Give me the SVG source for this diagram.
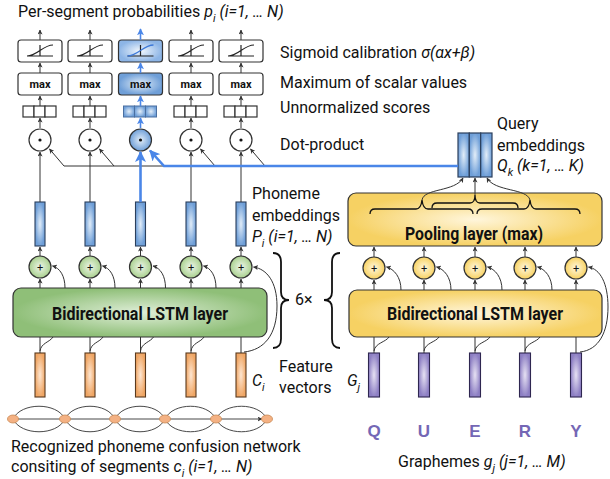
<svg xmlns="http://www.w3.org/2000/svg" width="610" height="479" viewBox="0 0 610 479">
<defs>
<style>
text{font-family:Roboto,"Liberation Sans",sans-serif;fill:#111}
.t{font-size:16px}
.it{font-style:italic}
.b{font-weight:bold}
.mx{font-size:11px;font-weight:bold;text-anchor:middle}
.pl{font-size:11px;text-anchor:middle}
.box{stroke:#333;stroke-width:1.2}
.w{fill:#fff;stroke:#333;stroke-width:1.2}
.ln{fill:none;stroke:#333;stroke-width:1}
.bl{fill:none;stroke:#4a86e8;stroke-width:1.6}
.blt{fill:none;stroke:#4a86e8;stroke-width:2.6}
.ic{fill:none;stroke:#222;stroke-width:1.2}
.q{font-family:"Liberation Sans",Arial,sans-serif;font-size:17px;font-weight:bold;fill:#7467b5;text-anchor:middle}
.cn{fill:none;stroke:#333;stroke-width:0.9}
.nd{fill:#f4b183;stroke:#c98a55;stroke-width:0.8}
</style>
<marker id="a" viewBox="0 0 10 10" refX="9" refY="5" markerWidth="5" markerHeight="5" orient="auto" markerUnits="userSpaceOnUse"><path d="M0,0L10,5L0,10L2.5,5z" fill="#333"/></marker>
<marker id="ab" viewBox="0 0 10 10" refX="9" refY="5" markerWidth="7" markerHeight="7" orient="auto" markerUnits="userSpaceOnUse"><path d="M0,0L10,5L0,10L2.5,5z" fill="#4a86e8"/></marker>
<marker id="abig" viewBox="0 0 10 10" refX="9" refY="5" markerWidth="11" markerHeight="11" orient="auto" markerUnits="userSpaceOnUse"><path d="M0,0L10,5L0,10L2.5,5z" fill="#4a86e8"/></marker>
<radialGradient id="gB"><stop offset="0" stop-color="#e2edf8"/><stop offset="1" stop-color="#6f9fd8"/></radialGradient>
<radialGradient id="gBl"><stop offset="0" stop-color="#f3f8fd"/><stop offset="1" stop-color="#8db5e6"/></radialGradient>
<radialGradient id="gG"><stop offset="0" stop-color="#dfeed8"/><stop offset="1" stop-color="#8fbf78"/></radialGradient>
<radialGradient id="gGc"><stop offset="0" stop-color="#eef6ea"/><stop offset="1" stop-color="#a9d08e"/></radialGradient>
<radialGradient id="gY"><stop offset="0" stop-color="#fff6dc"/><stop offset="1" stop-color="#f6d163"/></radialGradient>
<radialGradient id="gYc"><stop offset="0" stop-color="#fff8e0"/><stop offset="1" stop-color="#f8d262"/></radialGradient>
<radialGradient id="gO"><stop offset="0" stop-color="#fde6d2"/><stop offset="1" stop-color="#f0a766"/></radialGradient>
<radialGradient id="gP"><stop offset="0" stop-color="#e6e1f3"/><stop offset="1" stop-color="#8e80c4"/></radialGradient>
</defs>

<!-- labels -->
<text x="18" y="17" class="t">Per-segment probabilities <tspan class="it">p</tspan><tspan class="it" font-size="11" dy="5">i</tspan><tspan class="it" dy="-5"> (i=1, … N)</tspan></text>
<text x="280" y="58" class="t">Sigmoid calibration <tspan class="it">σ(αx+β)</tspan></text>
<text x="280" y="88" class="t">Maximum of scalar values</text>
<text x="280" y="113" class="t">Unnormalized scores</text>
<text x="280" y="150" class="t">Dot-product</text>
<text x="497" y="129" class="t">Query</text>
<text x="497" y="151" class="t">embeddings</text>
<text x="497" y="171" class="t it">Q<tspan font-size="11" dy="5">k</tspan><tspan dy="-5"> (k=1, … K)</tspan></text>
<text x="252" y="199" class="t">Phoneme</text>
<text x="252" y="221" class="t">embeddings</text>
<text x="252" y="242" class="t it">P<tspan font-size="11" dy="5">i</tspan><tspan dy="-5"> (i=1, … N)</tspan></text>
<text x="295" y="305" class="t">6×</text>
<text x="279" y="372" class="t">Feature</text>
<text x="279" y="393" class="t">vectors</text>
<text x="252" y="386" class="t it">C<tspan font-size="11" dy="5">i</tspan></text>
<text x="347" y="386" class="t it">G<tspan font-size="11" dy="5">j</tspan></text>
<text x="11" y="452" class="t">Recognized phoneme confusion network</text>
<text x="11" y="472" class="t">consiting of segments <tspan class="it">c</tspan><tspan class="it" font-size="11" dy="5">i</tspan><tspan class="it" dy="-5"> (i=1, … N)</tspan></text>
<text x="398" y="467" class="t">Graphemes <tspan class="it">g</tspan><tspan class="it" font-size="11" dy="5">j</tspan><tspan class="it" dy="-5"> (j=1, … M)</tspan></text>

<!-- braces 6x -->
<g id="repeat-braces" fill="none" stroke="#111" stroke-width="1.8">
<path d="M273 253Q281 253 281 262V292Q281 300 289 300Q281 300 281 308V339Q281 348 273 348"/>
<path d="M340 253Q332 253 332 262V292Q332 300 324 300Q332 300 332 308V339Q332 348 340 348"/>
</g>

<!-- left columns -->
<g id="sigmoid-1"><rect x="18" y="40" width="44" height="22" rx="3" class="w"/><path class="ic" d="M27 56H53M40 45V56M27 56C37 56 43 45 53 45"/></g>
<g id="sigmoid-2"><rect x="68" y="40" width="44" height="22" rx="3" class="w"/><path class="ic" d="M77 56H103M90 45V56M77 56C87 56 93 45 103 45"/></g>
<g id="sigmoid-3"><rect x="118.5" y="40" width="44" height="22" rx="3" fill="url(#gBl)" class="box"/><path class="ic" d="M127.5 56H153.5M140.5 45V56"/><path fill="none" stroke="#3c78d8" stroke-width="1.3" d="M127.5 56C137.5 56 143.5 45 153.5 45"/></g>
<g id="sigmoid-4"><rect x="169" y="40" width="44" height="22" rx="3" class="w"/><path class="ic" d="M178 56H204M191 45V56M178 56C188 56 194 45 204 45"/></g>
<g id="sigmoid-5"><rect x="219" y="40" width="44" height="22" rx="3" class="w"/><path class="ic" d="M228 56H254M241 45V56M228 56C238 56 244 45 254 45"/></g>

<g id="max-1"><rect x="18" y="73" width="44" height="22" rx="3" class="w"/><text x="40" y="88" class="mx">max</text></g>
<g id="max-2"><rect x="68" y="73" width="44" height="22" rx="3" class="w"/><text x="90" y="88" class="mx">max</text></g>
<g id="max-3"><rect x="118.5" y="73" width="44" height="22" rx="3" fill="url(#gB)" class="box" stroke-width="1.6"/><text x="140.5" y="88" class="mx">max</text></g>
<g id="max-4"><rect x="169" y="73" width="44" height="22" rx="3" class="w"/><text x="191" y="88" class="mx">max</text></g>
<g id="max-5"><rect x="219" y="73" width="44" height="22" rx="3" class="w"/><text x="241" y="88" class="mx">max</text></g>

<g id="scores-1" class="w"><rect x="23" y="106" width="11" height="11"/><rect x="34" y="106" width="11" height="11"/><rect x="45" y="106" width="11" height="11"/></g>
<g id="scores-2" class="w"><rect x="73" y="106" width="11" height="11"/><rect x="84" y="106" width="11" height="11"/><rect x="95" y="106" width="11" height="11"/></g>
<g id="scores-3" fill="url(#gB)" stroke="#4a6fa0" stroke-width="1"><rect x="123.5" y="106" width="11" height="11"/><rect x="134.5" y="106" width="11" height="11"/><rect x="145.5" y="106" width="11" height="11"/></g>
<g id="scores-4" class="w"><rect x="174" y="106" width="11" height="11"/><rect x="185" y="106" width="11" height="11"/><rect x="196" y="106" width="11" height="11"/></g>
<g id="scores-5" class="w"><rect x="224" y="106" width="11" height="11"/><rect x="235" y="106" width="11" height="11"/><rect x="246" y="106" width="11" height="11"/></g>

<g id="dot-1"><circle cx="40" cy="140" r="11" class="w"/><circle cx="40" cy="140" r="1.6" fill="#111"/></g>
<g id="dot-2"><circle cx="90" cy="140" r="11" class="w"/><circle cx="90" cy="140" r="1.6" fill="#111"/></g>
<g id="dot-3"><circle cx="140.5" cy="140" r="11" fill="url(#gB)" class="box"/><circle cx="140.5" cy="140" r="1.6" fill="#111"/></g>
<g id="dot-4"><circle cx="191" cy="140" r="11" class="w"/><circle cx="191" cy="140" r="1.6" fill="#111"/></g>
<g id="dot-5"><circle cx="241" cy="140" r="11" class="w"/><circle cx="241" cy="140" r="1.6" fill="#111"/></g>

<g id="phoneme-emb" fill="url(#gB)" stroke="#2b3f5c" stroke-width="1.1">
<rect x="35" y="202" width="10" height="44"/><rect x="85" y="202" width="10" height="44"/><rect x="135.5" y="202" width="10" height="44"/><rect x="186" y="202" width="10" height="44"/><rect x="236" y="202" width="10" height="44"/>
</g>

<g id="plus-green">
<g fill="url(#gGc)" class="box"><circle cx="40" cy="267" r="11"/><circle cx="90" cy="267" r="11"/><circle cx="140.5" cy="267" r="11"/><circle cx="191" cy="267" r="11"/><circle cx="241" cy="267" r="11"/></g>
<text x="40" y="271" class="pl">+</text><text x="90" y="271" class="pl">+</text><text x="140.5" y="271" class="pl">+</text><text x="191" y="271" class="pl">+</text><text x="241" y="271" class="pl">+</text>
</g>

<g id="lstm-left"><rect x="13" y="288" width="254" height="49" rx="8" fill="url(#gG)" class="box"/><text x="140" y="320" class="b" font-size="18" text-anchor="middle" textLength="176" lengthAdjust="spacingAndGlyphs">Bidirectional LSTM layer</text></g>

<g id="feature-vectors" fill="url(#gO)" stroke="#5a3a1e" stroke-width="1.1">
<rect x="35" y="353" width="10" height="44"/><rect x="85" y="353" width="10" height="44"/><rect x="135.5" y="353" width="10" height="44"/><rect x="186" y="353" width="10" height="44"/><rect x="236" y="353" width="10" height="44"/>
</g>

<g id="confusion-network">
<path class="cn" marker-end="url(#a)" d="M18 419H60M70 419H110M120 419H160M170 419H211M221 419H262"/>
<path class="cn" d="M13 419C21 402 57 402 65 419C73 402 107 402 115 419C123 402 157 402 165 419C173 402 208 402 216 419C224 402 259 402 267 419"/>
<path class="cn" d="M13 419C21 436 57 436 65 419C73 436 107 436 115 419C123 436 157 436 165 419C173 436 208 436 216 419C224 436 259 436 267 419"/>
<g class="nd"><ellipse cx="13" cy="419" rx="5.5" ry="4"/><ellipse cx="65" cy="419" rx="5.5" ry="4"/><ellipse cx="115" cy="419" rx="5.5" ry="4"/><ellipse cx="165" cy="419" rx="5.5" ry="4"/><ellipse cx="216" cy="419" rx="5.5" ry="4"/><ellipse cx="267" cy="419" rx="5.5" ry="4"/></g>
</g>

<!-- right side -->
<g id="query-embeddings" fill="url(#gB)" stroke="#2b3f5c" stroke-width="1.2">
<rect x="458" y="133" width="11.3" height="44"/><rect x="469.3" y="133" width="11.4" height="44"/><rect x="480.7" y="133" width="11.3" height="44"/>
</g>

<g id="pooling-layer">
<rect x="348" y="193" width="254" height="53" rx="8" fill="url(#gY)" class="box"/>
<g fill="none" stroke="#111" stroke-width="1.3">
<path d="M370 214Q370 209 375 209H416Q421 209 422 200Q423 209 428 209H468Q473 209 473 214"/>
<path d="M432 208Q432 203 437 203H470Q475 203 475 195Q475 203 480 203H513Q518 203 518 208"/>
<path d="M477 214Q477 209 482 209H524Q529 209 530 200Q531 209 536 209H575Q580 209 580 214"/>
</g>
<text x="474" y="240" class="b" font-size="18" text-anchor="middle" textLength="138" lengthAdjust="spacingAndGlyphs">Pooling layer (max)</text>
</g>

<g id="plus-yellow">
<g fill="url(#gYc)" class="box"><circle cx="374" cy="268" r="11"/><circle cx="424" cy="268" r="11"/><circle cx="475" cy="268" r="11"/><circle cx="525" cy="268" r="11"/><circle cx="576" cy="268" r="11"/></g>
<text x="374" y="272" class="pl">+</text><text x="424" y="272" class="pl">+</text><text x="475" y="272" class="pl">+</text><text x="525" y="272" class="pl">+</text><text x="576" y="272" class="pl">+</text>
</g>

<g id="lstm-right"><rect x="349" y="290" width="253" height="47" rx="8" fill="url(#gY)" class="box"/><text x="475" y="320" class="b" font-size="18" text-anchor="middle" textLength="176" lengthAdjust="spacingAndGlyphs">Bidirectional LSTM layer</text></g>

<g id="grapheme-emb" fill="url(#gP)" stroke="#2e2650" stroke-width="1.1">
<rect x="368.5" y="353" width="11" height="44"/><rect x="418.5" y="353" width="11" height="44"/><rect x="469.5" y="353" width="11" height="44"/><rect x="519.5" y="353" width="11" height="44"/><rect x="570.5" y="353" width="11" height="44"/>
</g>

<g id="graphemes"><text x="374" y="437" class="q">Q</text><text x="424" y="437" class="q">U</text><text x="475" y="437" class="q">E</text><text x="525" y="437" class="q">R</text><text x="576" y="437" class="q">Y</text></g>

<!-- connectors -->
<g id="connectors">
<g class="ln" marker-end="url(#a)">
<path d="M40 128V118"/><path d="M40 106V96"/><path d="M40 73V63"/><path d="M40 40V30"/>
<path d="M90 128V118"/><path d="M90 106V96"/><path d="M90 73V63"/><path d="M90 40V30"/>
<path d="M191 128V118"/><path d="M191 106V96"/><path d="M191 73V63"/><path d="M191 40V30"/>
<path d="M241 128V118"/><path d="M241 106V96"/><path d="M241 73V63"/><path d="M241 40V30"/>
<path d="M40 202V152"/><path d="M90 202V152"/><path d="M191 202V152"/><path d="M241 202V152"/>
<path d="M40 256V247"/><path d="M90 256V247"/><path d="M140.5 256V247"/><path d="M191 256V247"/><path d="M241 256V247"/>
<path d="M40 288V279"/><path d="M90 288V279"/><path d="M140.5 288V279"/><path d="M191 288V279"/><path d="M241 288V279"/>
<path d="M64 166L49.5 149"/><path d="M114 166L99.5 149"/><path d="M215 166L200.5 149"/><path d="M265 166L250.5 149"/>
<path d="M65 288C65 276 60 268 52.5 266"/><path d="M115 288C115 276 110 268 102.5 266"/><path d="M165.5 288C165.5 276 160.5 268 153 266"/><path d="M216 288C216 276 211 268 203.5 266"/>
<path d="M244 352C264 350 277 335 277 306C277 282 267 269 253.5 267"/>
<path d="M374 257V247"/><path d="M424 257V247"/><path d="M475 257V247"/><path d="M525 257V247"/><path d="M576 257V247"/>
<path d="M374 290V280"/><path d="M424 290V280"/><path d="M475 290V280"/><path d="M525 290V280"/><path d="M576 290V280"/>
<path d="M401 290C401 277 394 269 386.5 267"/><path d="M451 290C451 277 444 269 436.5 267"/><path d="M502 290C502 277 495 269 487.5 267"/><path d="M552 290C552 277 545 269 537.5 267"/>
<path d="M580 352C599 350 608 332 608 307C608 283 600 269 588.5 267"/>
<path d="M422 200C424 188 455 192 463 178"/><path d="M475 195V178"/><path d="M530 200C527 188 495 192 487 178"/>
</g>
<g class="ln">
<path d="M64 166H458"/>
<path d="M40 337V353M90 337V353M140.5 337V353M191 337V353M241 337V353"/>
<path d="M40 351C41 343 50 342 53 337M90 351C91 343 100 342 103 337M140.5 351C141.5 343 150.5 342 153.5 337M191 351C192 343 201 342 204 337"/>
<path d="M374 337V353M424 337V353M475 337V353M525 337V353M576 337V353"/>
<path d="M374 351C375 343 386 342 389 337M424 351C425 343 436 342 439 337M475 351C476 343 487 342 490 337M525 351C526 343 537 342 540 337"/>
</g>
<g class="bl" marker-end="url(#ab)">
<path d="M140.5 128V118"/><path d="M140.5 106V96"/><path d="M140.5 73V63"/><path d="M140.5 40V29"/>
</g>
<g class="blt" marker-end="url(#abig)">
<path d="M458 166H164L150 150.5"/>
<path d="M140.5 202V152"/>
</g>
</g>
</svg>
